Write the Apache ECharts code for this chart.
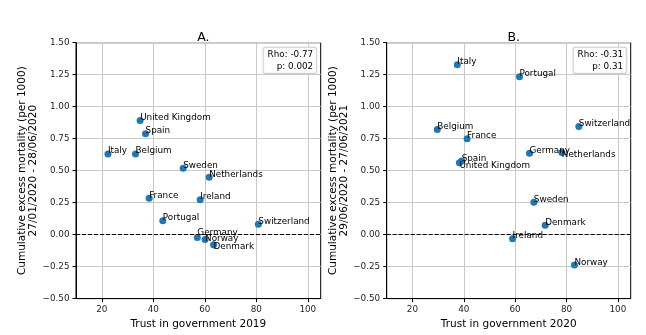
<!DOCTYPE html>
<html>
<head>
<meta charset="utf-8">
<script src="https://cdn.jsdelivr.net/npm/echarts@6/dist/echarts.min.js"></script>
<style>html,body{margin:0;padding:0;background:#fff}#c{width:646px;height:335px}</style>
</head>
<body>
<div id="c"></div>
<script>
// Panel A data
const countriesA = ['United Kingdom','Spain','Italy','Belgium','Sweden','Netherlands','France','Ireland','Portugal','Switzerland','Germany','Norway','Denmark'];
const trustA = [34.9, 37.0, 22.4, 33.1, 51.6, 61.7, 38.4, 58.2, 43.7, 80.8, 57.1, 60.1, 63.4];
const mortA = [0.892, 0.788, 0.631, 0.631, 0.518, 0.449, 0.285, 0.272, 0.108, 0.082, -0.023, -0.038, -0.079];
// Panel B data
const countriesB = ['Italy','Portugal','Belgium','France','Switzerland','Germany','Netherlands','Spain','United Kingdom','Sweden','Denmark','Ireland','Norway'];
const trustB = [37.5, 61.7, 29.7, 41.3, 84.8, 65.6, 78.2, 39.2, 38.3, 67.3, 71.7, 59.0, 83.1];
const mortB = [1.328, 1.234, 0.821, 0.749, 0.846, 0.636, 0.641, 0.575, 0.562, 0.254, 0.074, -0.033, -0.238];
// Tick labels
const xTicks = [20, 40, 60, 80, 100];
const statsA = ['Rho: -0.77', 'p: 0.002'];
const statsB = ['Rho: -0.31', 'p: 0.31'];
const titles = ['A.', 'B.'];
const xNames = ['Trust in government 2019', 'Trust in government 2020'];
const yNames = ['Cumulative excess mortality (per 1000)\n27/01/2020 - 28/06/2020', 'Cumulative excess mortality (per 1000)\n29/06/2020 - 27/06/2021'];

// label vertical nudges (style only)
const nudgeA = {'Germany': -2.5, 'Norway': 2.5, 'Denmark': 4.5};
const nudgeB = {'Netherlands': 5, 'United Kingdom': 6};

const FONT = 'DejaVu Sans';
const grids = [
  {left: 76, top: 42.7, width: 244.7, height: 260},
  {left: 386.7, top: 42.7, width: 244, height: 260}
];

function buildData(names, xs, ys, nudge) {
  return names.map((n, i) => ({
    name: n,
    value: [xs[i], ys[i]],
    label: {offset: [0, -2.8 + (nudge[n] || 0)]}
  }));
}

function fmtY(v) {
  const s = v.toFixed(2);
  return s.replace('-', '\u2212');
}

const option = {
  animation: false,
  backgroundColor: '#fff',
  textStyle: {fontFamily: FONT},
  title: titles.map((t, i) => ({
    text: t,
    left: grids[i].left + grids[i].width / 2,
    top: 26,
    textAlign: 'center',
    textStyle: {fontFamily: FONT, fontSize: 12.5, fontWeight: 'normal', color: '#000'}
  })),
  grid: grids.map(g => Object.assign({show: true, borderColor: '#000', borderWidth: 1, backgroundColor: 'transparent'}, g)),
  xAxis: [0, 1].map(i => ({
    type: 'value', gridIndex: i, min: 10, max: 105,
    name: xNames[i], nameLocation: 'middle', nameGap: 17,
    nameTextStyle: {fontFamily: FONT, fontSize: 10.5, color: '#000'},
    axisLine: {show: true, onZero: false, lineStyle: {color: '#000', width: 1}},
    axisTick: {show: true, length: 3.5, lineStyle: {color: '#000'}, customValues: xTicks},
    axisLabel: {fontFamily: FONT, fontSize: 8.8, color: '#262626', margin: 6.5, customValues: xTicks},
    splitLine: {show: true, lineStyle: {color: '#c8c8c8', width: 1}}
  })),
  yAxis: [0, 1].map(i => ({
    type: 'value', gridIndex: i, min: -0.5, max: 1.5, interval: 0.25,
    name: yNames[i], nameLocation: 'middle', nameGap: 37, nameRotate: 90,
    nameTextStyle: {fontFamily: FONT, fontSize: 10.5, color: '#000', lineHeight: 10.5},
    axisLine: {show: true, onZero: false, lineStyle: {color: '#000', width: 1}},
    axisTick: {show: true, length: 3.5, lineStyle: {color: '#000'}},
    axisLabel: {fontFamily: FONT, fontSize: 8.8, color: '#262626', margin: 6.5, formatter: fmtY},
    splitLine: {show: true, lineStyle: {color: '#c8c8c8', width: 1}}
  })),
  series: [
    [countriesA, trustA, mortA, nudgeA],
    [countriesB, trustB, mortB, nudgeB]
  ].map((d, i) => ({
    type: 'scatter', xAxisIndex: i, yAxisIndex: i,
    symbolSize: 7,
    itemStyle: {color: '#1f77b4', opacity: 1},
    data: buildData(d[0], d[1], d[2], d[3]),
    label: {
      show: true, formatter: p => p.name,
      position: ['50%', '50%'], align: 'left', verticalAlign: 'middle',
      fontFamily: FONT, fontSize: 8.8, color: '#000'
    },
    markLine: {
      silent: true, symbol: 'none', animation: false,
      label: {show: false},
      lineStyle: {color: '#000', type: [4, 2], width: 1},
      data: [{yAxis: 0}]
    },
    z: 3
  })),
  graphic: [statsA, statsB].map((s, i) => ({
    type: 'text',
    x: grids[i].left + grids[i].width - 4.5,
    y: 47.7,
    z: 100,
    style: {
      text: s.join('\n'),
      align: 'right', verticalAlign: 'top',
      font: '8.8px "DejaVu Sans"', fill: '#000',
      lineHeight: 11.7,
      backgroundColor: 'rgba(255,255,255,0.85)',
      borderColor: '#cccccc', borderWidth: 1, borderRadius: 2,
      padding: [1, 3, 1, 4]
    }
  }))
};

const chart = echarts.init(document.getElementById('c'), null, {renderer: 'canvas'});
chart.setOption(option);
</script>
</body>
</html>
